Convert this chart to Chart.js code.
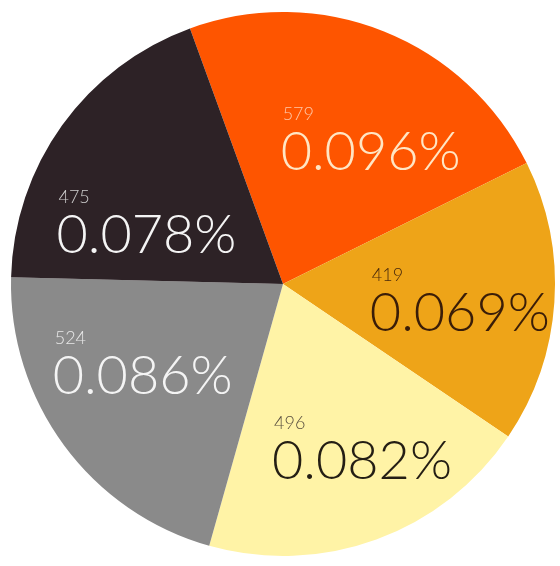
<!doctype html>
<html lang="en">
  <head>
    <meta charset="UTF-8" />
    <title>Pie</title>
    <script src="https://cdn.jsdelivr.net/npm/chart.js"></script>
    <style>
      html, body { margin: 0; padding: 0; background: #ffffff; }
      .chart-container { position: relative; width: 560px; height: 566px; }
    </style>
  </head>
  <body>
    <div class="chart-container">
      <canvas id="pieChart"></canvas>
    </div>

    <script>
      // values, clockwise from the top
      const values = [579, 419, 496, 524, 475]
      const percentLabels = ['0.096%', '0.069%', '0.082%', '0.086%', '0.078%']
      const sliceColors = ['#fe5500', '#eea418', '#fff3a6', '#8a8a8a', '#2d2226']
      const bigTextColors = ['#ffe6c4', '#3a1d08', '#241e14', '#f4f4f4', '#f4f4f4']
      const smallTextColors = ['#ffc8a8', '#4a2a0c', '#5a5040', '#e8e8e8', '#cfcfcf']

      // small nudges so each label block sits where the original puts it
      const labelNudge = [
        [27, 8],
        [14, 6],
        [23, 12],
        [-9, -17],
        [-4, 34],
      ]

      const sliceLabels = {
        id: 'sliceLabels',
        afterDatasetsDraw(chart) {
          const ctx = chart.ctx
          const meta = chart.getDatasetMeta(0)
          meta.data.forEach((arc, i) => {
            const mid = (arc.startAngle + arc.endAngle) / 2
            const r = arc.outerRadius * 0.6
            const cx = arc.x + Math.cos(mid) * r + labelNudge[i][0]
            const cy = arc.y + Math.sin(mid) * r + labelNudge[i][1]

            ctx.save()
            ctx.font = '300 54px Lato'
            const w = ctx.measureText(percentLabels[i]).width
            const left = cx - w / 2
            ctx.textAlign = 'left'
            ctx.textBaseline = 'alphabetic'
            ctx.fillStyle = bigTextColors[i]
            ctx.fillText(percentLabels[i], left, cy + 30)

            ctx.font = '300 18px Lato'
            ctx.fillStyle = smallTextColors[i]
            ctx.fillText(String(values[i]), left + 2, cy - 20)
            ctx.restore()
          })
        },
      }

      new Chart(document.getElementById('pieChart'), {
        type: 'pie',
        data: {
          labels: values.map(String),
          datasets: [
            {
              data: values,
              backgroundColor: sliceColors,
              borderWidth: 0,
            },
          ],
        },
        options: {
          responsive: true,
          maintainAspectRatio: false,
          animation: false,
          rotation: -20,
          layout: { padding: { left: 11, right: 5, top: 11, bottom: 9 } },
          plugins: {
            legend: { display: false },
            tooltip: { enabled: false },
          },
        },
        plugins: [sliceLabels],
      })
    </script>
  </body>
</html>
